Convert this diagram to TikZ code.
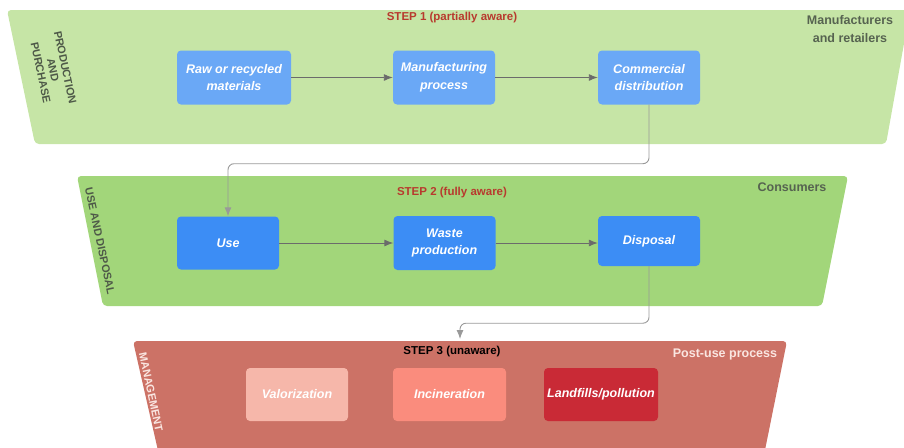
\documentclass[tikz,border=0pt]{standalone}
\usepackage{fontspec}
\setmainfont{Liberation Sans}
\usepackage{tikz}
\usetikzlibrary{arrows.meta}
\usetikzlibrary{calc}

\definecolor{bandA}{HTML}{C6E5A6}
\definecolor{bandB}{HTML}{A2D67A}
\definecolor{bandC}{HTML}{CC7266}
\definecolor{blueA}{HTML}{6AA8F6}
\definecolor{blueB}{HTML}{3C8DF5}
\definecolor{valcol}{HTML}{F6B7AA}
\definecolor{inccol}{HTML}{FA8C7D}
\definecolor{lfcol}{HTML}{C92A36}
\definecolor{stepred}{HTML}{B83A2E}
\definecolor{labgray}{HTML}{566350}
\definecolor{paletxt}{HTML}{FAE6E1}

\begin{document}
\begin{tikzpicture}[x=1pt, y=-1pt,
		every text node part/.style={align=center},
		block/.style={rectangle, inner sep=0pt, minimum width=102pt, minimum height=54pt, rounded corners=4pt, text=white, font=\fontsize{12.5}{17.5}\selectfont\bfseries\itshape},
		band/.style={rounded corners=4pt},
		steptitle/.style={inner sep=0pt, font=\fontsize{11.5}{13}\selectfont\bfseries},
		actor/.style={inner sep=0pt, text=labgray, font=\fontsize{12.5}{18}\selectfont\bfseries},
		side/.style={inner sep=0pt, rotate=-78, text=labgray!90!black, font=\fontsize{11}{12.5}\selectfont\bfseries},
		arrow/.style={-{Latex[length=9pt, width=7pt]}, line width=0.9pt, draw=black!58},
		link/.style={-{Latex[length=9pt, width=7pt]}, line width=0.9pt, draw=black!40, rounded corners=6pt}]
		
		\useasboundingbox (0,0) rectangle (904,447);
		
		% bands
		\fill[band, bandA] (7,10) -- (910,10) -- (886,144) -- (35,144) -- cycle;
		\fill[band, bandB] (77,176) -- (848,176) -- (822,306) -- (103,306) -- cycle;
		\fill[band, bandC] (133,341) -- (787,341) -- (764,455) -- (159,455) -- cycle;
		
		% step 1
		\node[steptitle, text=stepred] (step1) at (452,18) {STEP 1 (partially aware)};
		\node[actor] (makers) at (850,29) {Manufacturers\\and retailers};
		\node[side] (prod) at (53,70) {PRODUCTION\\AND\\PURCHASE};
		
		\node[block, fill=blueA, minimum width=114pt] (raw) at (234,77.5) {Raw or recycled\\materials};
		\node[block, fill=blueA] (manuf) at (444,77.5) {Manufacturing\\process};
		\node[block, fill=blueA] (comm) at (649,77.5) {Commercial\\distribution};
		
		\draw (raw) edge[arrow] (manuf);
		\draw (manuf) edge[arrow] (comm);
		
		% step 2
		\node[steptitle, text=stepred] (step2) at (452,193) {STEP 2 (fully aware)};
		\node[actor] (consum) at (792,187) {Consumers};
		\node[side] (usedisp) at (100,241) {USE AND DISPOSAL};
		
		\node[block, fill=blueB, minimum height=53pt] (use) at (228,243) {Use};
		\node[block, fill=blueB] (waste) at (444.5,243) {Waste\\production};
		\node[block, fill=blueB, minimum height=50pt] (disp) at (649,241) {Disposal};
		
		\draw (use) edge[arrow] (waste);
		\draw (waste) edge[arrow] (waste -| disp.west);
		
		% step 3
		\node[steptitle, text=black] (step3) at (452,352) {STEP 3 (unaware)};
		\node[actor, text=paletxt] (postuse) at (725,354) {Post-use process};
		\node[side, text=paletxt] (manage) at (151,392) {MANAGEMENT};
		
		\node[block, fill=valcol, minimum height=53pt] (valor) at (297,394.5) {Valorization};
		\node[block, fill=inccol, minimum width=113pt, minimum height=53pt] (incin) at (449.5,394.5) {Incineration};
		\node[block, fill=lfcol, minimum width=114pt, minimum height=53pt] (landf) at (601,394.5) {Landfills/pollution};
		
		% between the steps
		\coordinate (s3in) at (460,339);
		\draw[link] (comm.south) -- ++(0,59) -| (use.north);
		\draw[link] (disp.south) -- ++(0,57) -| (s3in);
		
	\end{tikzpicture}
\end{document}
